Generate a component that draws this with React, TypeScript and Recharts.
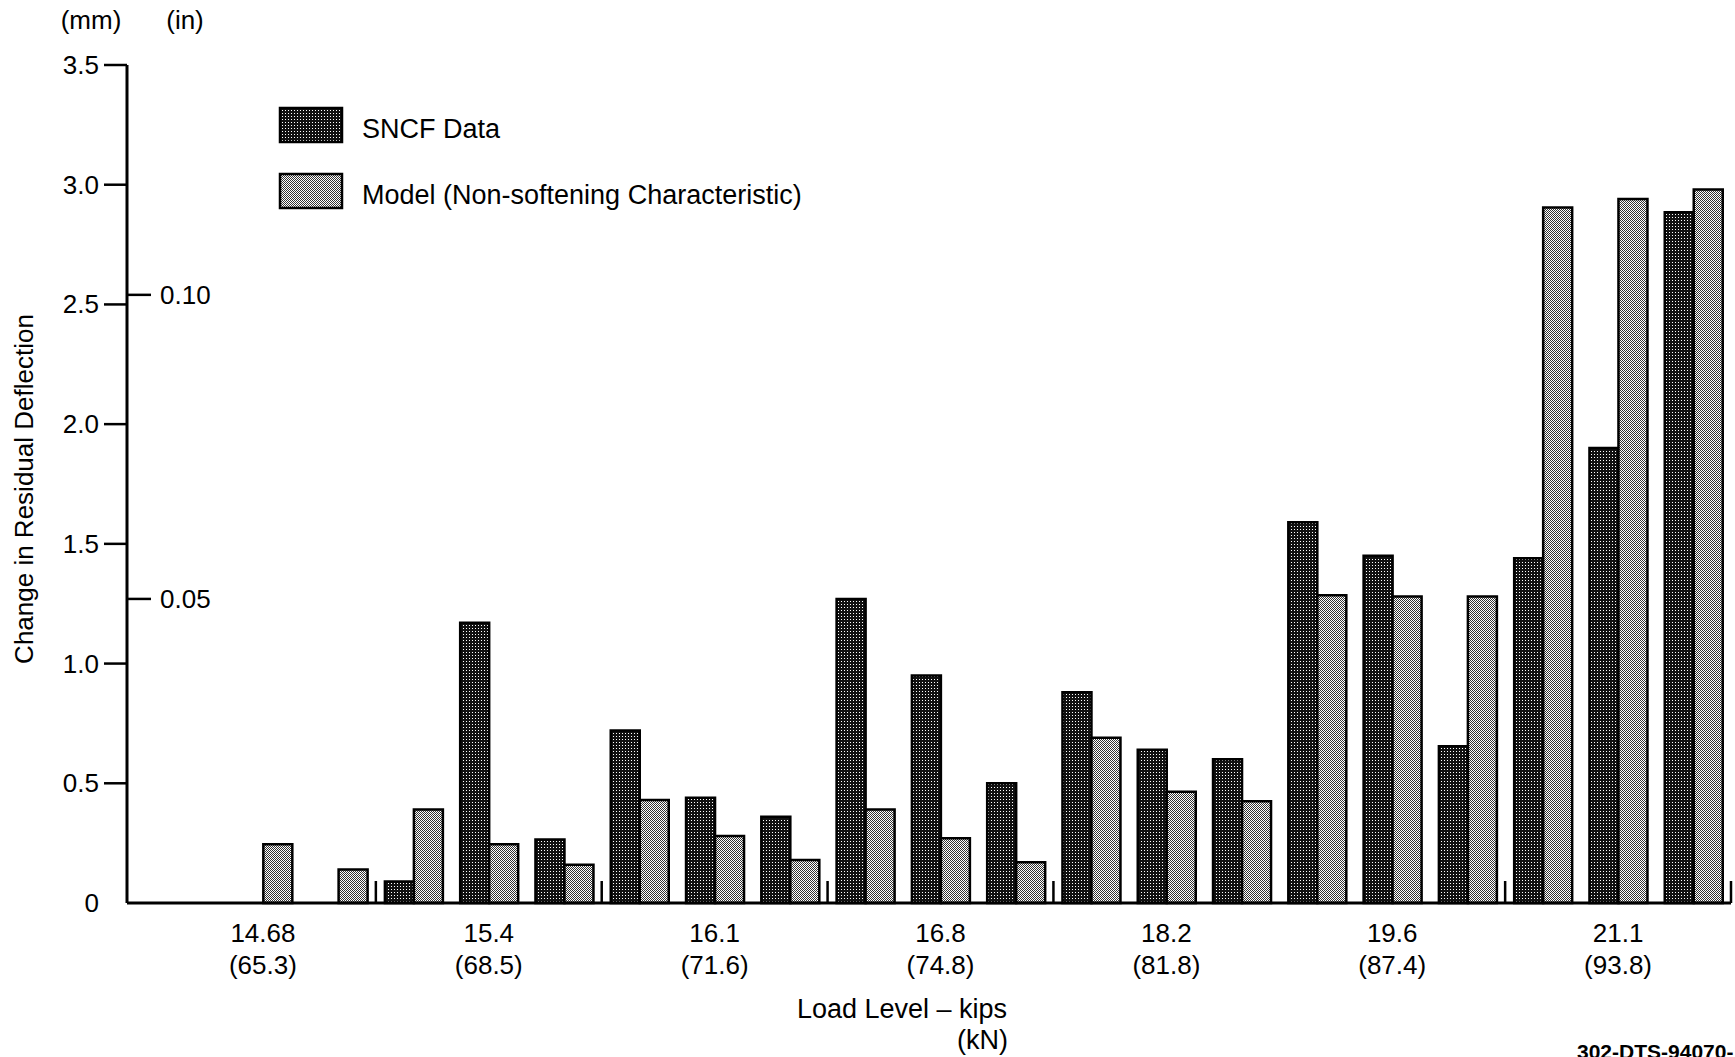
import React from "react";
import { BarChart, Bar, XAxis, YAxis, Legend } from "recharts";

// load levels, one label per group of three test slots
const loadKips = ["14.68", "15.4", "16.1", "16.8", "18.2", "19.6", "21.1"];
const loadKn = ["(65.3)", "(68.5)", "(71.6)", "(74.8)", "(81.8)", "(87.4)", "(93.8)"];

// change in residual deflection (mm), one value per slot
const sncfValues = [0, 0, 0, 0.09, 1.17, 0.265, 0.72, 0.44, 0.36, 1.27, 0.95, 0.5, 0.88, 0.64, 0.6, 1.59, 1.45, 0.655, 1.44, 1.9, 2.885];
const modelValues = [0, 0.245, 0.14, 0.39, 0.245, 0.16, 0.43, 0.28, 0.18, 0.39, 0.27, 0.17, 0.69, 0.465, 0.425, 1.285, 1.28, 1.28, 2.905, 2.94, 2.98];

const mmTicks = [0, 0.5, 1, 1.5, 2, 2.5, 3, 3.5];
const inchTicks = [0.05, 0.1];
const MM_PER_IN = 25.4;
// slot boundaries marked with a short divider on the axis
const dividerSlots = [3, 6, 9, 12, 18, 21];
const legendOrder = ["sncf", "model"];

const data = sncfValues.map((v, i) => ({ slot: i, sncf: v, model: modelValues[i] }));
// inch ticks sit on the same axis, placed at their mm equivalent
const axisTicks = [...mmTicks, ...inchTicks.map((t) => t * MM_PER_IN)];

const FONT = "'Liberation Sans', Arial, Helvetica, sans-serif";

function DeflectionTick(props: any) {
  const { x, y, payload } = props;
  const v = payload.value;
  if (!mmTicks.includes(v)) {
    return (
      <g>
        <line x1={x} x2={x + 24} y1={y} y2={y} stroke="#000" strokeWidth={2.5} />
        <text x={x + 33} y={y} textAnchor="start" dominantBaseline="central" fontSize={26} fontFamily={FONT} fill="#000">
          {(v / MM_PER_IN).toFixed(2)}
        </text>
      </g>
    );
  }
  return (
    <g>
      {v !== 0 && <line x1={x - 23} x2={x} y1={y} y2={y} stroke="#000" strokeWidth={2.5} />}
      <text x={x - 28} y={y} textAnchor="end" dominantBaseline="central" fontSize={26} fontFamily={FONT} fill="#000">
        {v === 0 ? "0" : v.toFixed(1)}
      </text>
    </g>
  );
}

function SlotTick(props: any) {
  const { x, y, payload } = props;
  const i = payload.value;
  const half = payload.offset ?? 37.6;
  const g = Math.floor(i / 3);
  return (
    <g>
      {dividerSlots.includes(i) && (
        <line x1={x - half} x2={x - half} y1={y} y2={y - 22} stroke="#000" strokeWidth={2.5} />
      )}
      {i === data.length - 1 && dividerSlots.includes(i + 1) && (
        <line x1={x + half} x2={x + half} y1={y} y2={y - 22} stroke="#000" strokeWidth={2.5} />
      )}
      {i % 3 === 1 && (
        <g fontSize={26} fontFamily={FONT} fill="#000" textAnchor="middle">
          <text x={x} y={y + 30} dominantBaseline="central">{loadKips[g]}</text>
          <text x={x} y={y + 62} dominantBaseline="central">{loadKn[g]}</text>
        </g>
      )}
    </g>
  );
}

function LegendBox(props: any) {
  const items = [...(props.payload || [])].sort(
    (a: any, b: any) => legendOrder.indexOf(a.dataKey) - legendOrder.indexOf(b.dataKey)
  );
  return (
    <svg width={600} height={110}>
      {items.map((item: any, k: number) => (
        <g key={item.value} transform={`translate(0, ${k * 66})`}>
          <rect x={2} y={2} width={62} height={34} fill={`url(#${item.dataKey}Fill)`} stroke="#000" strokeWidth={2.5} />
          <text x={84} y={23} dominantBaseline="central" fontSize={27} fontFamily={FONT} fill="#000">
            {item.value}
          </text>
        </g>
      ))}
    </svg>
  );
}

export default function App() {
  return (
    <div style={{ position: "absolute", left: 0, top: 0, width: 1735, height: 1057, background: "#fff" }}>
      <BarChart
        width={1735}
        height={1057}
        data={data}
        margin={{ top: 65, right: 4, bottom: 0, left: 0 }}
        barCategoryGap="12%"
        barGap={0}
      >
        <defs>
          <pattern id="sncfFill" width={3} height={3} patternUnits="userSpaceOnUse">
            <rect width={3} height={3} fill="#111" />
            <rect x={1} y={1} width={1} height={1} fill="#fff" />
          </pattern>
          <pattern id="modelFill" width={2} height={2} patternUnits="userSpaceOnUse">
            <rect width={2} height={2} fill="#fff" />
            <rect width={1} height={1} fill="#333" />
            <rect x={1} y={1} width={1} height={1} fill="#333" />
          </pattern>
        </defs>
        <XAxis
          dataKey="slot"
          type="category"
          height={154}
          interval={0}
          padding={{ left: 23, right: 0 }}
          tickLine={false}
          tickSize={0}
          tickMargin={0}
          axisLine={{ stroke: "#000", strokeWidth: 3 }}
          tick={<SlotTick />}
        />
        <YAxis
          width={127}
          domain={[0, 3.5]}
          ticks={axisTicks}
          interval={0}
          tickLine={false}
          tickSize={0}
          tickMargin={0}
          axisLine={{ stroke: "#000", strokeWidth: 3 }}
          tick={<DeflectionTick />}
        />
        <Legend
          layout="horizontal"
          verticalAlign="middle"
          align="center"
          wrapperStyle={{ position: "absolute", left: 278, top: 106, width: 600, height: 110 }}
          content={<LegendBox />}
        />
        <Bar dataKey="sncf" name="SNCF Data" fill="url(#sncfFill)" stroke="#000" strokeWidth={2.5} isAnimationActive={false} />
        <Bar dataKey="model" name="Model (Non-softening Characteristic)" fill="url(#modelFill)" stroke="#000" strokeWidth={2.5} isAnimationActive={false} />

        <text x={91} y={20} textAnchor="middle" dominantBaseline="central" fontSize={26} fontFamily={FONT}>(mm)</text>
        <text x={185} y={20} textAnchor="middle" dominantBaseline="central" fontSize={26} fontFamily={FONT}>(in)</text>
        <text
          x={24}
          y={489}
          transform="rotate(-90, 24, 489)"
          textAnchor="middle"
          dominantBaseline="central"
          fontSize={26}
          fontFamily={FONT}
        >
          Change in Residual Deflection
        </text>
        <text x={902} y={1009} textAnchor="middle" dominantBaseline="central" fontSize={27} fontFamily={FONT}>
          Load Level – kips
        </text>
        <text x={1008} y={1040} textAnchor="end" dominantBaseline="central" fontSize={27} fontFamily={FONT}>
          (kN)
        </text>
        <text x={1577} y={1059} fontSize={21} fontWeight="bold" fontFamily={FONT}>
          302-DTS-94070-
        </text>
      </BarChart>
    </div>
  );
}
